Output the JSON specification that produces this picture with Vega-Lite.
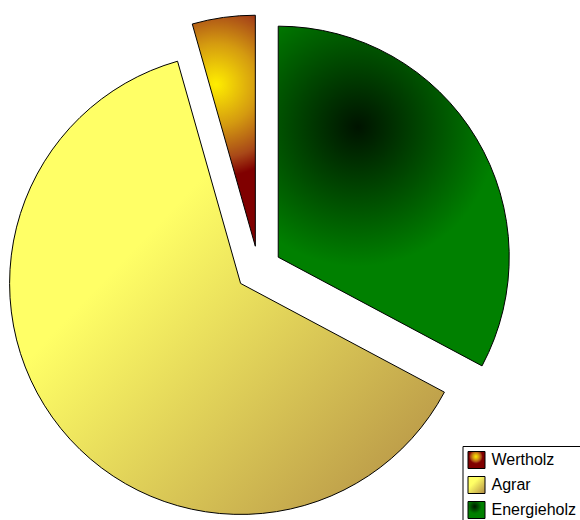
{
  "$schema": "https://vega.github.io/schema/vega-lite/v6.json",
  "autosize": "none",
  "width": 517,
  "height": 502,
  "padding": {"left": 0, "top": 18, "right": 63, "bottom": 0},
  "background": "white",
  "view": {"stroke": null},
  "data": {
    "values": [
      {"name": "Energieholz", "share": 32.8},
      {"name": "Agrar", "share": 62.8},
      {"name": "Wertholz", "share": 4.4}
    ]
  },
  "transform": [
    {"calculate": "indexof(['Energieholz', 'Agrar', 'Wertholz'], datum.name)", "as": "slice_order"}
  ],
  "mark": {
    "type": "arc",
    "outerRadius": 231,
    "stroke": "#000000",
    "strokeWidth": 1,
    "xOffset": {"expr": "23 * sin(scale('theta', (datum.share_start + datum.share_end) / 2))"},
    "yOffset": {"expr": "-23 * cos(scale('theta', (datum.share_start + datum.share_end) / 2))"}
  },
  "encoding": {
    "theta": {"field": "share", "type": "quantitative", "stack": true},
    "order": {"field": "slice_order", "type": "quantitative"},
    "fill": {
      "field": "name",
      "type": "nominal",
      "scale": {
        "domain": ["Wertholz", "Agrar", "Energieholz"],
        "range": [
          {"expr": "{gradient: 'radial', x1: 0.466, y1: 0.3, r1: 0, x2: 0.466, y2: 0.3, r2: 0.4, stops: [{offset: 0, color: '#ffee00'}, {offset: 0.45, color: '#d49a10'}, {offset: 0.8, color: '#a84818'}, {offset: 1, color: '#800000'}]}"},
          {"expr": "{gradient: 'linear', x1: 0.35, y1: 0.35, x2: 1, y2: 1, stops: [{offset: 0, color: '#ffff66'}, {offset: 1, color: '#b08a44'}]}"},
          {"expr": "{gradient: 'radial', x1: 0.395, y1: 0.297, r1: 0, x2: 0.395, y2: 0.297, r2: 0.41, stops: [{offset: 0, color: '#001400'}, {offset: 1, color: '#008000'}]}"}
        ]
      },
      "legend": {
        "title": null,
        "orient": "none",
        "legendX": 462.5,
        "legendY": 428,
        "padding": 5,
        "strokeColor": "#000000",
        "fillColor": "#ffffff",
        "symbolType": "square",
        "symbolSize": 289,
        "symbolStrokeColor": "#000000",
        "symbolStrokeWidth": 1,
        "symbolOpacity": 1,
        "labelFont": "Liberation Sans",
        "labelFontSize": 16,
        "labelColor": "#000000",
        "labelOffset": 6,
        "rowPadding": 3
      }
    }
  }
}
